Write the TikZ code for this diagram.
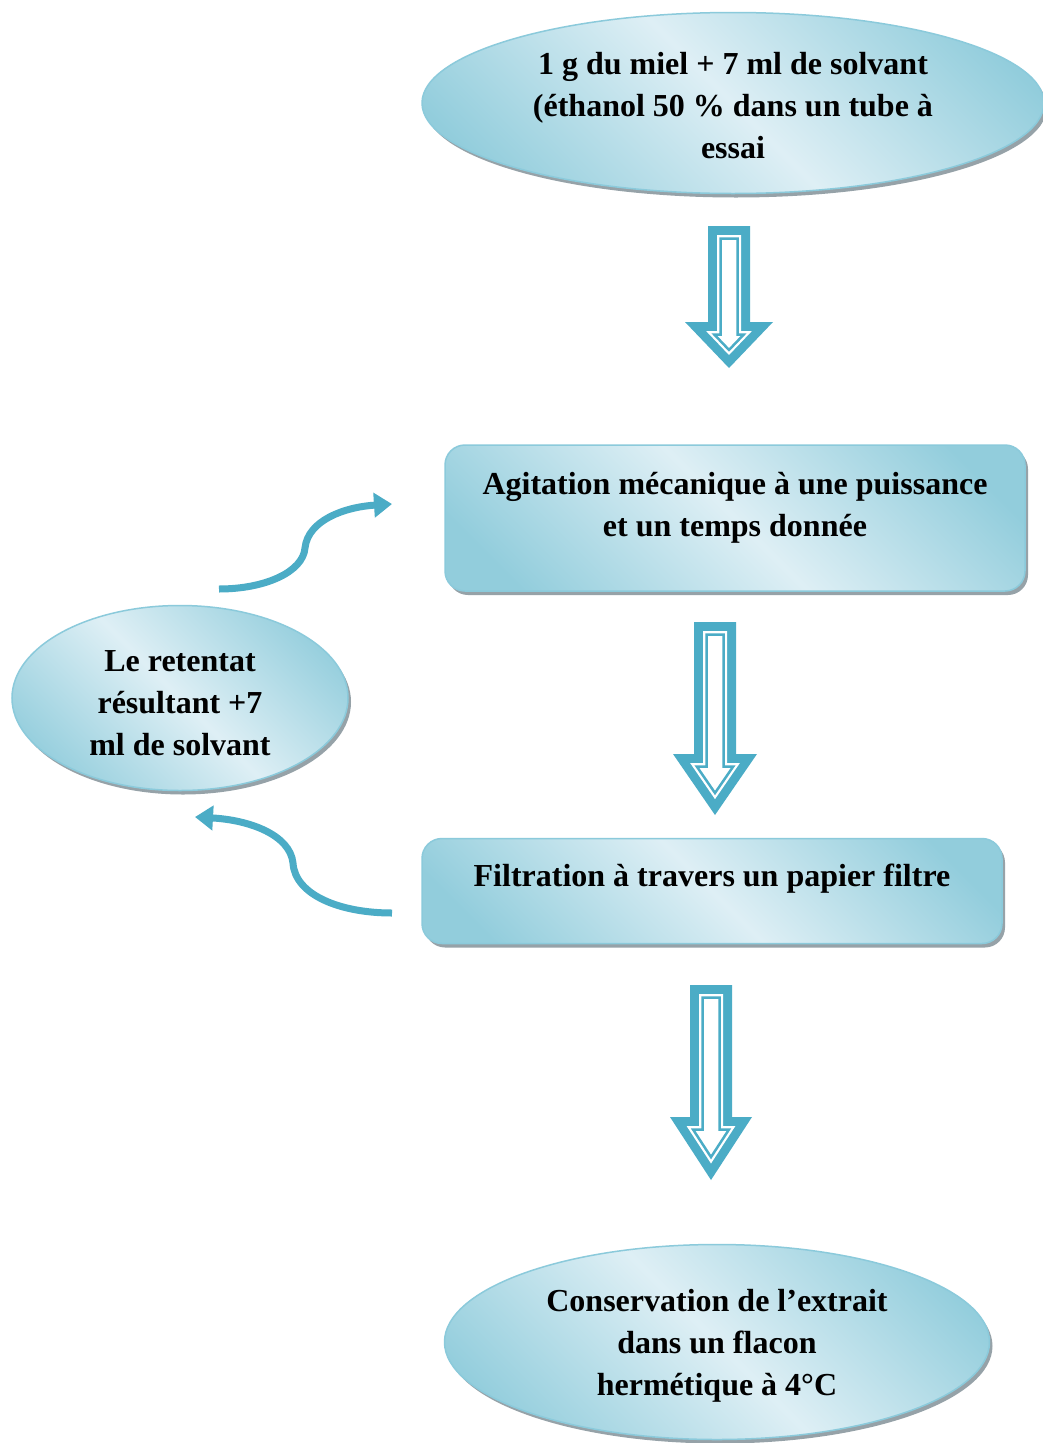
\documentclass[tikz,border=0pt]{standalone}
\usepackage{fontspec}
\setmainfont{Liberation Serif}
\usetikzlibrary{%
  arrows.meta,%
  calc,%
  shapes.geometric,%
  shadows%
}
\definecolor{arrowblue}{RGB}{75,172,198}
\definecolor{lightb}{RGB}{222,239,245}
\definecolor{darkb}{RGB}{146,205,220}
\definecolor{edgeb}{RGB}{139,202,219}
\definecolor{shadowg}{RGB}{150,162,168}
\pgfdeclarehorizontalshading{diagband}{100bp}{color(0bp)=(darkb); color(22bp)=(darkb);
  color(50bp)=(lightb); color(78bp)=(darkb); color(100bp)=(darkb)}
\tikzset{>={Triangle[length=18pt,width=24pt]},
  txt/.style={font=\fontsize{32}{42}\selectfont\bfseries, align=center, text=black},
  glassy/.style={txt, shading=diagband, shading angle=45, draw=edgeb, line width=1.5pt,
    drop shadow={shadow xshift=3pt, shadow yshift=-4pt, fill=shadowg, opacity=1}},
  oval/.style={glassy, ellipse, inner sep=0pt},
  box/.style={glassy, rectangle, rounded corners=20pt, inner sep=0pt},
  loopline/.style={draw=arrowblue, line width=7pt, ->}}
% one outline of a down arrow, pushed in by #6
\newcommand{\arrowpoly}[7]{%
  \pgfmathsetmacro{\tipup}{#6*veclen(#4,#5)/#4}
  \pgfmathsetmacro{\headw}{#4-#6*#4/#5-#6*veclen(#4,#5)/#5}
  \path[#7] ($(#1)+(-#3+#6,#6)$) -- ($(#1)+(#3-#6,#6)$) -- ($(#2)+(#3-#6,-#5+#6)$)
    -- ($(#2)+(\headw,-#5+#6)$) -- ($(#2)+(0,-\tipup)$) -- ($(#2)+(-\headw,-#5+#6)$)
    -- ($(#2)+(-#3+#6,-#5+#6)$) -- cycle;}
\newcommand{\hollowarrow}[5]{%
  \arrowpoly{#1}{#2}{#3}{#4}{#5}{0}{fill=arrowblue}
  \arrowpoly{#1}{#2}{#3}{#4}{#5}{9}{fill=white}
  \arrowpoly{#1}{#2}{#3}{#4}{#5}{12.5}{draw=arrowblue, line width=2.5pt}}
\begin{document}
\begin{tikzpicture}[x=1pt,y=-1pt]
  \useasboundingbox[fill=white] (0,0) rectangle (1042,1443);
  \node[oval, minimum width=622, minimum height=181] (miel) at (733,103)
    {\\[-14pt] 1 g du miel + 7 ml de solvant\\ (éthanol 50 \% dans un tube à\\ essai};
  \node[box, minimum width=580, minimum height=146] (agit) at (735,518)
    {Agitation mécanique à une puissance\\ et un temps donnée\\[-14pt]};
  \node[box, minimum width=580, minimum height=105] (filt) at (712,891)
    {Filtration à travers un papier filtre\\[-10pt]};
  \node[oval, minimum width=336, minimum height=185] (ret) at (180,698)
    {\\[-10pt] Le retentat\\ résultant +7\\ ml de solvant};
  \node[oval, minimum width=545, minimum height=195] (cons) at (717,1342)
    {\\[-12pt] Conservation de l’extrait\\ dans un flacon\\ hermétique à 4°C};
  % block arrows
  \coordinate (a1top) at (729,226); \coordinate (a1tip) at (729,368);
  \coordinate (a2top) at (715,622); \coordinate (a2tip) at (715,815);
  \coordinate (a3top) at (711,985); \coordinate (a3tip) at (711,1180);
  \hollowarrow{a1top}{a1tip}{21}{44}{46}
  \hollowarrow{a2top}{a2tip}{21}{42}{61}
  \hollowarrow{a3top}{a3tip}{21}{41}{63}
  % loop back
  \coordinate (loopa) at (219,589); \coordinate (loopb) at (392,504);
  \coordinate (loopc) at (392,913); \coordinate (loopd) at (195,817);
  \draw[loopline] (loopa) .. controls (265,589) and (303,572) .. (305,548)
    .. controls (308,520) and (345,507) .. (loopb);
  \draw[loopline] (loopc) .. controls (340,913) and (295,895) .. (293,863)
    .. controls (290,835) and (250,820) .. (loopd);
\end{tikzpicture}
\end{document}
